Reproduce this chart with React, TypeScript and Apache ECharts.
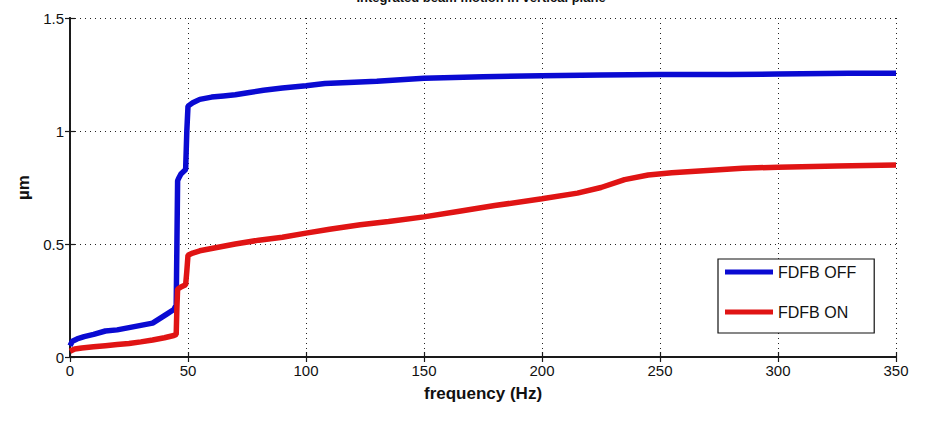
import React, { useEffect, useRef } from "react";
import * as echarts from "echarts";

const TITLE = "Integrated beam motion in vertical plane";
const X_NAME = "frequency (Hz)";
const Y_NAME = "µm";
const SERIES_NAMES = ["FDFB OFF", "FDFB ON"];

const offFreq = [0, 1, 3, 6, 10, 15, 20, 25, 30, 35, 38, 41, 44, 45, 45.3, 45.6, 46, 47, 48, 49, 49.5, 50, 52, 55, 60, 65, 70, 76, 82, 90, 100, 108, 118, 130, 150, 175, 200, 225, 250, 280, 300, 330, 350];
const offVal = [0.05, 0.07, 0.08, 0.09, 0.1, 0.115, 0.12, 0.13, 0.14, 0.15, 0.17, 0.19, 0.21, 0.23, 0.5, 0.78, 0.79, 0.81, 0.82, 0.83, 1.0, 1.11, 1.125, 1.14, 1.15, 1.155, 1.16, 1.17, 1.18, 1.19, 1.2, 1.21, 1.215, 1.22, 1.233, 1.24, 1.245, 1.248, 1.25, 1.25, 1.252, 1.255, 1.255];

const onFreq = [0, 2, 5, 10, 15, 20, 25, 30, 35, 40, 44, 45, 45.3, 45.6, 47, 49, 49.5, 50, 52, 55, 60, 70, 80, 90, 100, 110, 123, 135, 150, 165, 180, 200, 215, 225, 235, 245, 255, 270, 285, 300, 325, 350];
const onVal = [0.025, 0.035, 0.04, 0.045, 0.05, 0.055, 0.06, 0.067, 0.075, 0.085, 0.095, 0.1, 0.22, 0.3, 0.31, 0.32, 0.38, 0.45, 0.46, 0.47, 0.48, 0.5, 0.517, 0.53, 0.548, 0.565, 0.585, 0.6, 0.62, 0.645, 0.67, 0.7, 0.725, 0.75, 0.785, 0.805, 0.815, 0.825, 0.835, 0.84, 0.845, 0.85];

const FONT = '"Liberation Sans", Arial, sans-serif';

export default function App() {
  const ref = useRef<HTMLDivElement>(null);
  useEffect(() => {
    if (!ref.current) return;
    const chart = echarts.init(ref.current, undefined, { renderer: "svg" });
    const gridLine = { show: true, lineStyle: { color: "#222", type: [1, 4] as any, width: 1 } };
    const frame = { show: true, lineStyle: { color: "#1a1a1a", width: 1.8 } };
    const tick = { show: true, inside: true, length: 5, lineStyle: { color: "#1a1a1a", width: 1.2 } };
    chart.setOption({
      animation: false,
      backgroundColor: "#fff",
      graphic: [
        {
          type: "text",
          x: 481,
          y: 4,
          style: {
            text: TITLE,
            align: "center",
            verticalAlign: "bottom",
            font: `bold 13px ${FONT}`,
            fill: "#111",
          },
        },
      ],
      grid: { left: 70, right: 30, top: 18, bottom: 67, show: false },
      legend: {
        orient: "vertical",
        left: 718,
        top: 259,
        data: SERIES_NAMES,
        icon: "rect",
        itemWidth: 48,
        itemHeight: 5,
        itemGap: 24,
        itemStyle: { borderWidth: 0 },
        padding: [5, 18, 13, 7],
        borderColor: "#111",
        borderWidth: 1.2,
        backgroundColor: "#fff",
        textStyle: { fontFamily: FONT, fontSize: 16, color: "#111", lineHeight: 16 },
        itemTextGap: 4,
      },
      xAxis: [
        {
          type: "value",
          min: 0,
          max: 350,
          interval: 50,
          name: X_NAME,
          nameLocation: "middle",
          nameGap: 28,
          nameTextStyle: { fontFamily: FONT, fontSize: 17, fontWeight: "bold", color: "#111" },
          axisLine: frame,
          axisTick: tick,
          axisLabel: { fontFamily: FONT, fontSize: 15, color: "#111", margin: 6 },
          splitLine: gridLine,
        },
        {
          type: "value",
          position: "top",
          min: 0,
          max: 350,
          interval: 50,
          axisLine: frame,
          axisTick: tick,
          axisLabel: { show: false },
          splitLine: { show: false },
        },
      ],
      yAxis: [
        {
          type: "value",
          min: 0,
          max: 1.5,
          interval: 0.5,
          name: Y_NAME,
          nameLocation: "middle",
          nameGap: 30,
          nameRotate: 90,
          nameTextStyle: { fontFamily: FONT, fontSize: 17, fontWeight: "bold", color: "#111" },
          axisLine: frame,
          axisTick: tick,
          axisLabel: { fontFamily: FONT, fontSize: 15, color: "#111", margin: 6, formatter: (v: number) => String(v) },
          splitLine: gridLine,
        },
        {
          type: "value",
          position: "right",
          min: 0,
          max: 1.5,
          interval: 0.5,
          axisLine: frame,
          axisTick: tick,
          axisLabel: { show: false },
          splitLine: { show: false },
        },
      ],
      series: [
        {
          name: SERIES_NAMES[0],
          type: "line",
          xAxisIndex: 0,
          yAxisIndex: 0,
          data: offFreq.map((f, i) => [f, offVal[i]]),
          showSymbol: false,
          symbol: "none",
          lineStyle: { color: "#0a0ad2", width: 5.5 },
          itemStyle: { color: "#0a0ad2" },
        },
        {
          name: SERIES_NAMES[1],
          type: "line",
          xAxisIndex: 0,
          yAxisIndex: 0,
          data: onFreq.map((f, i) => [f, onVal[i]]),
          showSymbol: false,
          symbol: "none",
          lineStyle: { color: "#e01414", width: 5.5 },
          itemStyle: { color: "#e01414" },
        },
      ],
    });
    return () => chart.dispose();
  }, []);
  return <div ref={ref} style={{ width: 926, height: 424, position: "absolute", left: 0, top: 0 }} />;
}
